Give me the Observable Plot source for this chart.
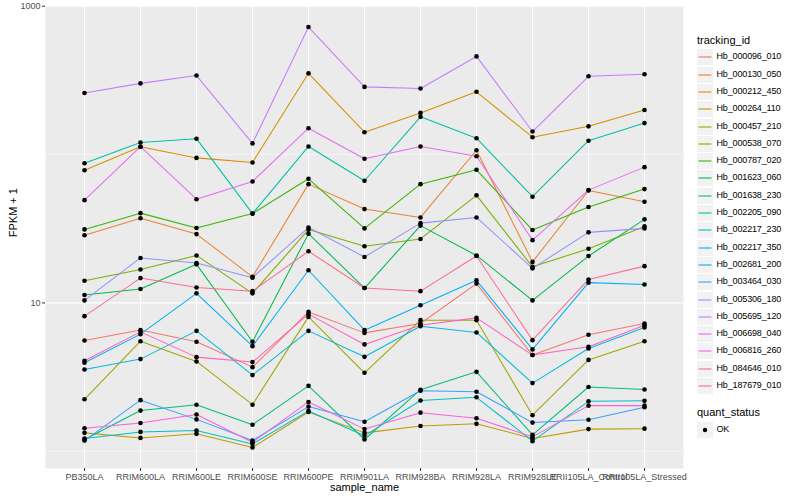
<!DOCTYPE html>
<html>
<head>
<meta charset="utf-8">
<script src="https://cdn.jsdelivr.net/npm/d3@7"></script>
<script src="https://cdn.jsdelivr.net/npm/@observablehq/plot@0.6"></script>
<style>
  body { margin: 0; background: white; font-family: "Liberation Sans", Arial, sans-serif; }
  #wrap { position: relative; width: 800px; height: 500px; overflow: hidden; }
  #chart { position: absolute; left: 0; top: 0; }
  #legend { position: absolute; left: 0; top: 0; width: 800px; height: 500px; pointer-events: none; }
  .lt { position: absolute; font-size: 11px; color: #000; line-height: 1; white-space: nowrap; }
  .ll { position: absolute; font-size: 9px; letter-spacing: -0.15px; color: #000; line-height: 1; white-space: nowrap; }
  .key { position: absolute; width: 16px; height: 16px; }
</style>
</head>
<body>
<div id="wrap"><div id="chart"></div><div id="legend"></div></div>
<script>
const samples = ["PB350LA","RRIM600LA","RRIM600LE","RRIM600SE","RRIM600PE","RRIM901LA","RRIM928BA","RRIM928LA","RRIM928LE","RRII105LA_Control","RRII105LA_Stressed"];
const ids = ["Hb_000096_010","Hb_000130_050","Hb_000212_450","Hb_000264_110","Hb_000457_210","Hb_000538_070","Hb_000787_020","Hb_001623_060","Hb_001638_230","Hb_002205_090","Hb_002217_230","Hb_002217_350","Hb_002681_200","Hb_003464_030","Hb_005306_180","Hb_005695_120","Hb_006698_040","Hb_006816_260","Hb_084646_010","Hb_187679_010"];
const colors = ["#F8766D","#EA8331","#D89000","#C09B00","#A3A500","#7CAE00","#39B600","#00BB4E","#00BF7D","#00C1A3","#00BFC4","#00BAE0","#00B0F6","#35A2FF","#9590FF","#C77CFF","#E76BF3","#FA62DB","#FF62BC","#FF6C91"];
const yTicks = [10, 1000];
const yMinor = [1, 100];

// FPKM + 1 per tracking_id, in sample order
const hb_000096_010 = [5.58, 6.57, 5.47, 3.69, 8.7, 6.28, 7.27, 13.5, 4.45, 6.1, 7.27];
const hb_000130_050 = [28.6, 37.2, 29.1, 15.0, 63.2, 42.9, 37.7, 107, 18.9, 57.3, 48.1];
const hb_000212_450 = [78.5, 113, 95, 88.5, 353, 141.5, 191, 265, 131, 155, 200];
const hb_000264_110 = [1.33, 1.23, 1.31, 1.06, 1.84, 1.33, 1.48, 1.53, 1.22, 1.41, 1.42];
const hb_000457_210 = [2.24, 5.52, 4.03, 2.06, 8.05, 3.38, 7.65, 7.65, 1.75, 4.13, 5.52];
const hb_000538_070 = [14.1, 16.8, 20.9, 11.6, 31.2, 24.1, 27.0, 53.1, 17.5, 23.2, 32.8];
const hb_000787_020 = [31.3, 40.3, 32, 40, 68.7, 31.8, 63.2, 79, 31, 44.3, 58.5];
const hb_001623_060 = [11.3, 12.4, 18.2, 5.47, 29.3, 12.6, 33.2, 20.9, 10.4, 20.7, 36.6];
const hb_001638_230 = [1.20, 1.88, 2.06, 1.51, 2.76, 1.20, 2.60, 3.43, 1.29, 2.71, 2.61];
const hb_002205_090 = [87.5, 120.6, 128, 40, 113.5, 66.6, 179.6, 129, 52, 124, 163];
const hb_002217_230 = [1.22, 1.35, 1.38, 1.12, 1.87, 1.27, 2.20, 2.31, 1.17, 2.17, 2.19];
const hb_002217_350 = [3.56, 4.18, 6.48, 3.26, 6.48, 4.33, 6.97, 6.32, 2.88, 4.93, 6.83];
const hb_002681_200 = [3.95, 6.16, 11.6, 5.11, 16.6, 6.55, 9.65, 14.2, 4.86, 13.7, 13.3];
const hb_003464_030 = [1.18, 2.21, 1.64, 1.18, 2.0, 1.58, 2.56, 2.52, 1.56, 1.63, 1.98];
const hb_005306_180 = [10.4, 20.1, 18.6, 14.8, 32.2, 20.4, 34.5, 37.7, 17.1, 29.9, 31.8];
const hb_005695_120 = [260, 302, 341, 119, 724, 286, 279, 459, 143, 337, 348];
const hb_006698_040 = [49.3, 113, 50, 65.9, 150.6, 93.7, 113.4, 97.5, 26.5, 57.6, 82.3];
const hb_006816_260 = [1.43, 1.55, 1.77, 1.15, 2.15, 1.41, 1.82, 1.67, 1.25, 2.03, 2.03];
const hb_084646_010 = [4.07, 6.38, 4.31, 3.99, 8.4, 5.25, 7.08, 7.93, 4.45, 5.06, 7.08];
const hb_187679_010 = [8.14, 14.7, 12.7, 12.0, 22.3, 12.6, 12.0, 20.7, 5.61, 14.4, 17.7];

const series = [hb_000096_010, hb_000130_050, hb_000212_450, hb_000264_110, hb_000457_210, hb_000538_070, hb_000787_020, hb_001623_060, hb_001638_230, hb_002205_090, hb_002217_230, hb_002217_350, hb_002681_200, hb_003464_030, hb_005306_180, hb_005695_120, hb_006698_040, hb_006816_260, hb_084646_010, hb_187679_010];

const data = ids.flatMap((id, i) => series[i].map((v, j) => ({id, sample: samples[j], value: v, quant_status: "OK"})));

const chart = Plot.plot({
  width: 690,
  height: 500,
  marginLeft: 45,
  marginRight: 7,
  marginTop: 5.5,
  marginBottom: 32,
  style: {fontFamily: '"Liberation Sans", Arial, sans-serif', fontSize: "9px", background: "white", color: "black", overflow: "visible"},
  x: {type: "point", domain: samples, padding: 0.6, label: null},
  y: {type: "log", domain: [0.765, 1004], label: null},
  color: {domain: ids, range: colors},
  marks: [
    Plot.frame({fill: "#EBEBEB", stroke: "none"}),
    Plot.ruleY(yMinor, {stroke: "white", strokeWidth: 0.55}),
    Plot.ruleY(yTicks, {stroke: "white", strokeWidth: 1.1}),
    Plot.ruleX(samples, {stroke: "white", strokeWidth: 1.1}),
    Plot.line(data, {x: "sample", y: "value", z: "id", stroke: "id", strokeWidth: 1.05}),
    Plot.dot(data, {x: "sample", y: "value", r: 2.3, fill: "black", stroke: "none"}),
    Plot.axisX({tickSize: 3, tickPadding: 2, fontSize: 9, stroke: "#333333", fill: "#4d4d4d", label: null, style: {letterSpacing: "-0.3px"}}),
    Plot.axisY({ticks: yTicks, tickFormat: d => String(d), tickSize: 3, tickPadding: 2, fontSize: 9, stroke: "#333333", fill: "#4d4d4d", label: null}),
    Plot.text(["FPKM + 1"], {frameAnchor: "left", dx: -32, rotate: -90, fontSize: 11, fill: "black"}),
    Plot.text(["sample_name"], {frameAnchor: "bottom", dy: 22.5, fontSize: 11, fill: "black"})
  ]
});
document.getElementById("chart").appendChild(chart);

// Legend (ggplot style, right side)
const lg = d3.select("#legend");
const lx = 697, step = 17.3, y0 = 57.3;
lg.append("div").attr("class", "lt").style("left", lx + "px").style("top", (40.7 - 6) + "px").text("tracking_id");
ids.forEach((id, i) => {
  const cy = y0 + i * step;
  const k = lg.append("svg").attr("class", "key").attr("width", 16).attr("height", 16)
    .style("left", lx + "px").style("top", (cy - 8) + "px");
  k.append("rect").attr("width", 16).attr("height", 16).attr("fill", "#F2F2F2");
  k.append("line").attr("x1", 1.5).attr("x2", 14.5).attr("y1", 8).attr("y2", 8)
    .attr("stroke", colors[i]).attr("stroke-width", 1.1);
  lg.append("div").attr("class", "ll").style("left", (lx + 19.5) + "px").style("top", (cy - 5) + "px").text(id);
});
lg.append("div").attr("class", "lt").style("left", lx + "px").style("top", (412.5 - 6) + "px").text("quant_status");
const qk = lg.append("svg").attr("class", "key").attr("width", 16).attr("height", 16)
  .style("left", lx + "px").style("top", (429.5 - 8) + "px");
qk.append("rect").attr("width", 16).attr("height", 16).attr("fill", "#F2F2F2");
qk.append("circle").attr("cx", 8).attr("cy", 8).attr("r", 2.2).attr("fill", "black");
lg.append("div").attr("class", "ll").style("left", (lx + 19.5) + "px").style("top", (429.5 - 5) + "px").text("OK");
</script>
</body>
</html>
